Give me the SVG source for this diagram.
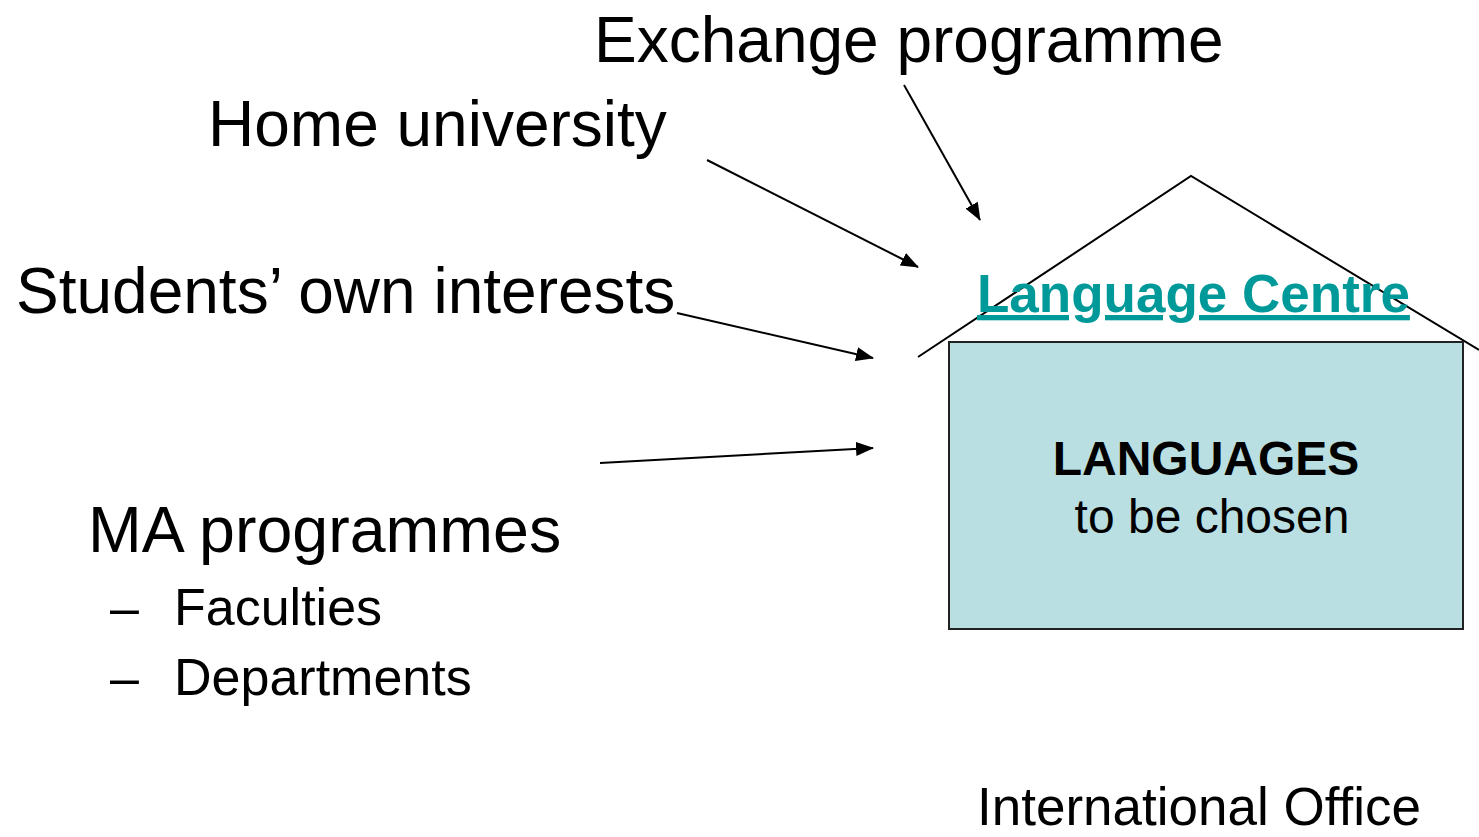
<svg xmlns="http://www.w3.org/2000/svg" width="1479" height="837" viewBox="0 0 1479 837">
<style>
text{font-family:"Liberation Sans",Arial,sans-serif;fill:#000}
.big{font-size:64px}
.sub{font-size:52px}
.conn{stroke:#000;stroke-width:2;fill:none}
</style>
<defs>
<marker id="ah" markerWidth="18" markerHeight="14" refX="17" refY="7" orient="auto" markerUnits="userSpaceOnUse">
<path d="M0,0 L18,7 L0,14 Z" fill="#000"/>
</marker>
</defs>
<rect width="1479" height="837" fill="#fff"/>
<g id="house">
<polyline points="918,357 1191,176 1479,350" fill="none" stroke="#000" stroke-width="2"/>
<rect x="949" y="342" width="514" height="287" fill="#B9DFE2" stroke="#222" stroke-width="2"/>
<text x="977" y="312" style="font-size:53px;font-weight:bold;fill:#009999;text-decoration:underline">Language Centre</text>
<text x="1206" y="475" text-anchor="middle" style="font-size:48px;font-weight:bold">LANGUAGES</text>
<text x="1212" y="533" text-anchor="middle" style="font-size:48px">to be chosen</text>
</g>
<g id="exchange"><text class="big" x="594" y="62">Exchange programme</text></g>
<g id="home"><text class="big" x="208" y="146">Home university</text></g>
<g id="students"><text class="big" x="16" y="313">Students’ own interests</text></g>
<g id="ma">
<text class="big" x="88" y="552" style="font-size:64.5px">MA programmes</text>
<text class="sub" x="110" y="625">–</text>
<text class="sub" x="174" y="625">Faculties</text>
<text class="sub" x="110" y="695">–</text>
<text class="sub" x="174" y="695">Departments</text>
</g>
<g id="intl"><text x="977" y="825" style="font-size:53px">International Office</text></g>
<g id="connectors">
<line class="conn" x1="904" y1="85" x2="980" y2="220" marker-end="url(#ah)"/>
<line class="conn" x1="707" y1="160" x2="918" y2="267" marker-end="url(#ah)"/>
<line class="conn" x1="677" y1="313" x2="873" y2="358" marker-end="url(#ah)"/>
<line class="conn" x1="600" y1="463" x2="873" y2="448" marker-end="url(#ah)"/>
</g>
</svg>
